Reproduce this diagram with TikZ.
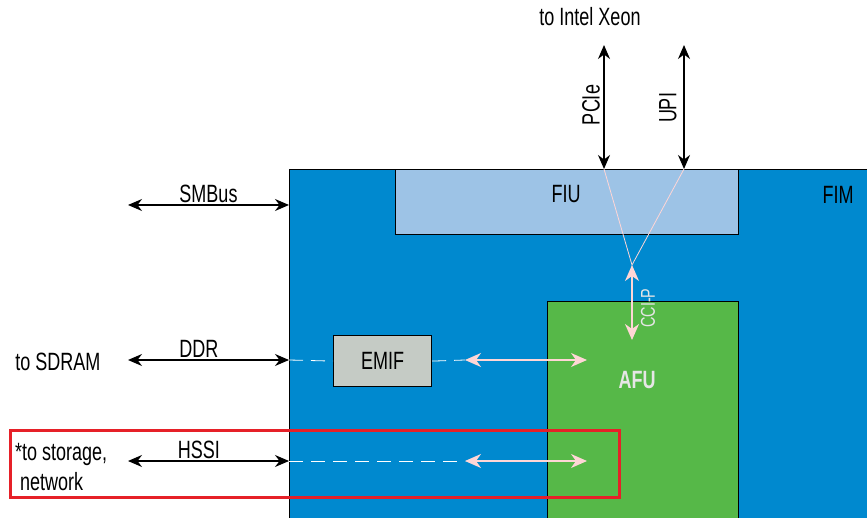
\documentclass[tikz,border=0pt]{standalone}
\usepackage{fontspec}
\setmainfont{Liberation Sans}[FakeStretch=0.72]
\usetikzlibrary{arrows.meta}
\definecolor{fimblue}{RGB}{0,137,207}
\definecolor{fiublue}{RGB}{157,195,230}
\definecolor{afugreen}{RGB}{86,184,72}
\definecolor{emifgray}{RGB}{197,203,197}
\definecolor{hired}{RGB}{230,32,40}
\definecolor{pinkarr}{RGB}{255,214,214}
\definecolor{afutext}{RGB}{230,230,230}
\begin{document}
\begin{tikzpicture}[x=1pt,y=-1pt,
	every node/.style={font=\fontsize{25}{30}\selectfont,inner sep=2pt},
	block/.style={draw,line width=1.2pt,anchor=north west,inner sep=0pt},
	link/.style={line width=1.5pt,{Stealth[length=14pt,width=12pt]}-{Stealth[length=14pt,width=12pt]}},
	pinklink/.style={draw=pinkarr,line width=1.5pt,
		{Stealth[length=16pt,width=14pt,inset=5pt]}-{Stealth[length=16pt,width=14pt,inset=5pt]}},
	trace/.style={draw=white,line width=.8pt,dash pattern=on 14pt off 8pt},
	vee/.style={draw=pinkarr,line width=.8pt}]
\clip (0,0) rectangle (867,518);
% blocks
\node[block,fill=fimblue,minimum width=620pt,minimum height=380pt] (fim) at (289,169) {};
\node[block,fill=fiublue,minimum width=343pt,minimum height=65pt] (fiu) at (395,169) {};
\node[block,fill=afugreen,minimum width=191pt,minimum height=240pt] (afu) at (547,301) {};
\node[block,fill=emifgray,minimum width=98pt,minimum height=51pt] (emif) at (333,335) {EMIF};
\node (fiulabel) at (566,194) {FIU};
\node (fimlabel) at (838,195) {FIM};
\node[text=afutext,font=\fontsize{25}{30}\selectfont\bfseries] (afulabel) at (637,380) {AFU};
% host side
\node (xeon) at (590,17) {to Intel Xeon};
\coordinate (pcie) at (604,45);
\coordinate (upi) at (684,45);
\coordinate (ccip) at (632,265);
\coordinate (afuin) at (632,340);
\draw[link] (pcie) -- (pcie |- fiu.north);
\draw[link] (upi) -- (upi |- fiu.north);
\node[rotate=90] (pcielabel) at (591,105) {PCIe};
\node[rotate=90] (upilabel) at (668,108) {UPI};
\draw[vee] (pcie |- fiu.north) -- (ccip) -- (upi |- fiu.north);
\draw[pinklink] (ccip) -- (afuin);
\node[rotate=90,text=afutext,font=\fontsize{20}{24}\selectfont] (cciplabel) at (648,308) {CCI-P};
% left side
\coordinate (smb) at (128,205);
\coordinate (ddr) at (128,360);
\coordinate (hssi) at (128,461);
\draw[link] (smb) -- node[above] {SMBus} (smb -| fim.west);
\draw[link] (ddr) -- node[above,pos=.44] {DDR} (ddr -| fim.west);
\draw[link] (hssi) -- node[above,pos=.44] {HSSI} (hssi -| fim.west);
\node (sdram) at (58,362) {to SDRAM};
\node[anchor=west,align=left] (storage) at (13,467) {*to storage,\\\ network};
% memory and serial paths
\coordinate (ddrA) at (465,360);
\coordinate (ddrB) at (587,360);
\coordinate (hssiA) at (465,461);
\coordinate (hssiB) at (587,461);
\draw[trace] (ddr -| fim.west) -- (emif.west);
\draw[trace] (emif.east) -- (ddrA);
\draw[pinklink] (ddrA) -- (ddrB);
\draw[trace] (hssi -| fim.west) -- (hssiA);
\draw[pinklink] (hssiA) -- (hssiB);
\draw[draw=hired,line width=3pt] (10,430) rectangle (619,497);
\end{tikzpicture}
\end{document}
